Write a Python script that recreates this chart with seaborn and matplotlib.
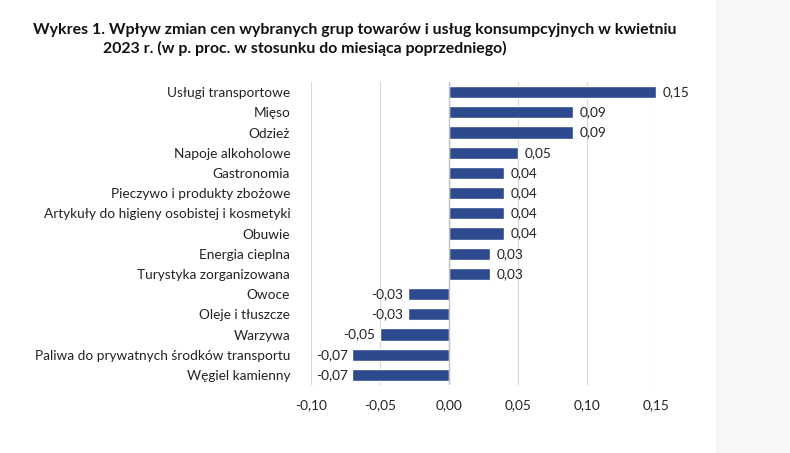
import pandas as pd
import matplotlib.pyplot as plt
import seaborn as sns

# dane z wykresu
categories = [
    'Usługi transportowe', 'Mięso', 'Odzież', 'Napoje alkoholowe', 'Gastronomia',
    'Pieczywo i produkty zbożowe', 'Artykuły do higieny osobistej i kosmetyki',
    'Obuwie', 'Energia cieplna', 'Turystyka zorganizowana', 'Owoce',
    'Oleje i tłuszcze', 'Warzywa', 'Paliwa do prywatnych środków transportu',
    'Węgiel kamienny',
]
values = [0.15, 0.09, 0.09, 0.05, 0.04, 0.04, 0.04, 0.04, 0.03, 0.03,
          -0.03, -0.03, -0.05, -0.07, -0.07]
x_ticks = [-0.10, -0.05, 0.00, 0.05, 0.10, 0.15]

df = pd.DataFrame({'kategoria': categories, 'wartosc': values})

sns.set_style('white')
plt.rcParams['font.family'] = ['Lato', 'DejaVu Sans']

fig = plt.figure(figsize=(7.9, 4.53), dpi=100)
# szary pas po prawej
fig.patches.append(plt.Rectangle((716 / 790, 0), 1, 1, transform=fig.transFigure,
                                 color='#f7f7f7', zorder=0))
ax = fig.add_axes([311 / 790, 1 - 385 / 453, (656 - 311) / 790, (385 - 82) / 453])

sns.barplot(data=df, x='wartosc', y='kategoria', orient='h', color='#2e4a8e',
            width=0.6, saturation=1, ax=ax, zorder=3)

fmt = lambda v: f'{v:.2f}'.replace('.', ',')

ax.set_xlim(-0.10, 0.15)
ax.set_xticks(x_ticks)
ax.set_xticklabels([fmt(t) for t in x_ticks])
ax.set_ylim(len(categories) - 0.5, -0.5)
ax.grid(axis='x', color='#d9d9d9', linewidth=0.8, zorder=0)
ax.axvline(0, color='#bfbfbf', linewidth=0.9, zorder=4)
for s in ax.spines.values():
    s.set_visible(False)
ax.set_xlabel('')
ax.set_ylabel('')
ax.tick_params(axis='y', length=0, pad=15, labelsize=9.8, labelcolor='#222222')
ax.tick_params(axis='x', length=0, pad=10, labelsize=9.8, labelcolor='#222222')

for i, v in enumerate(values):
    if v >= 0:
        ax.text(v + 0.0045, i, fmt(v), va='center', ha='left', fontsize=9.8, color='#222222')
    else:
        ax.text(v - 0.0035, i, fmt(v), va='center', ha='right', fontsize=9.8, color='#222222')

fig.text(33 / 790, 1 - 30 / 453, 'Wykres 1. Wpływ zmian cen wybranych grup towarów i usług konsumpcyjnych w kwietniu',
         fontsize=11.4, fontweight='bold', va='center', ha='left', color='#111111')
fig.text(103 / 790, 1 - 48 / 453, '2023 r. (w p. proc. w stosunku do miesiąca poprzedniego)',
         fontsize=11.4, fontweight='bold', va='center', ha='left', color='#111111')

fig.savefig('out.png', dpi=100)
